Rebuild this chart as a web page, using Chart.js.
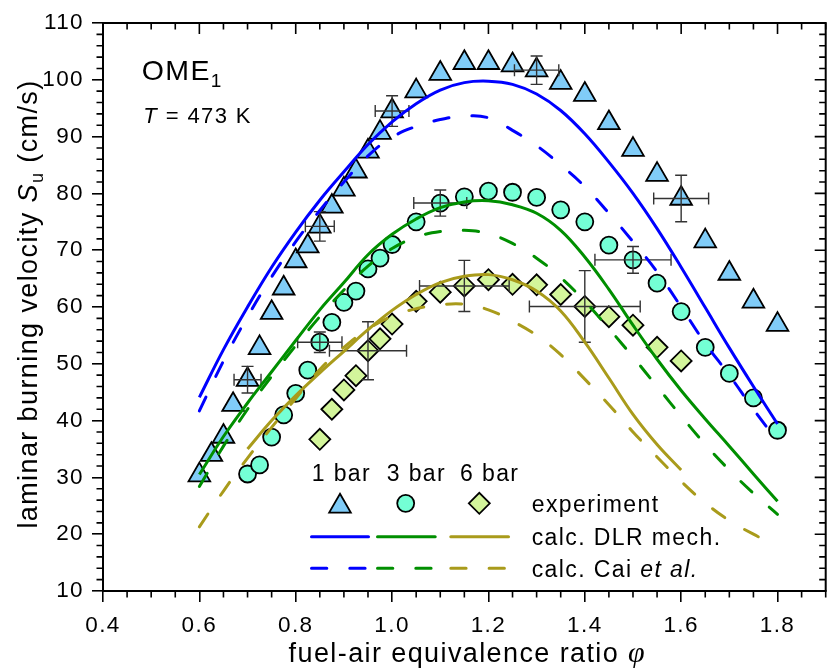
<!DOCTYPE html>
<html><head><meta charset="utf-8">
<script src="https://cdn.jsdelivr.net/npm/chart.js@4/dist/chart.umd.min.js"></script>
<style>
html,body{margin:0;padding:0;overflow:hidden;background:#fff;}
#wrap{width:827px;height:670px;overflow:hidden;position:relative;background:#fff;}
canvas{display:block;}
</style></head><body>
<div id="wrap"><canvas id="c" width="840" height="670"></canvas></div>
<script>
// ---------------- data ----------------
const xTickValues = [0.4, 0.6, 0.8, 1.0, 1.2, 1.4, 1.6, 1.8];
const yTickValues = [10, 20, 30, 40, 50, 60, 70, 80, 90, 100, 110];

// calculation grid (fuel-air equivalence ratio)
const phiGrid = [0.6,0.65,0.7,0.75,0.8,0.85,0.9,0.95,1.0,1.05,1.1,1.15,1.2,1.25,1.3,1.35,1.4,1.45,1.5,1.55,1.6,1.65,1.7,1.75,1.8];
const phiGrid6 = [0.7,0.75,0.8,0.85,0.9,0.95,1.0,1.05,1.1,1.15,1.2,1.25,1.3,1.35,1.4,1.45,1.5,1.55,1.6];

// calc. DLR mech.
const dlr1 = [44.1,52.5,60.0,67.0,73.2,78.8,83.8,88.6,92.6,95.8,98.2,99.5,99.75,99.2,97.5,94.6,90.5,85.5,80.0,73.8,67.0,59.9,52.8,46.0,39.4];
const dlr3 = [30.5,37.2,43.1,48.6,54.1,59.5,64.3,69.2,72.8,75.5,77.5,78.5,78.7,78.0,76.5,73.5,68.8,63.1,56.8,50.8,45.3,40.3,35.5,30.6,25.8];
const dlr6 = [35.0,40.0,44.4,48.4,52.2,56.0,59.4,62.2,64.3,65.4,65.7,64.8,62.8,59.3,53.8,47.5,41.1,35.8,31.3];
// calc. Cai et al.
const cai1 = [41.7,50.5,58.3,65.3,71.5,77.0,82.0,86.6,89.9,91.8,93.0,93.6,93.3,91.1,88.4,85.0,81.2,76.5,71.5,66.2,60.0,53.6,48.0,42.0,36.4];
const cai3 = [28.4,35.5,42.0,47.8,53.2,58.3,63.0,67.2,70.3,72.3,73.3,73.5,72.9,71.2,68.6,65.2,61.0,56.2,51.2,46.0,40.8,35.8,31.3,27.2,23.5];
const cai6 = [21.3,27.6,33.4,38.8,43.9,49.0,52.9,56.1,58.4,59.7,60.4,60.5,59.5,57.5,55.0,51.6,47.3,42.8,38.0,33.6,29.3,25.5,22.4,20.0,17.9];

// experiment, 1 bar
const exp1Phi = [0.6,0.625,0.65,0.67,0.7,0.725,0.75,0.775,0.8,0.825,0.85,0.875,0.9,0.925,0.95,0.975,1.0,1.05,1.1,1.15,1.2,1.25,1.3,1.35,1.4,1.45,1.5,1.55,1.6,1.65,1.7,1.75,1.8];
const exp1Su  = [30.4,34.0,37.2,42.8,47.2,52.8,59.0,63.3,68.1,70.7,74.2,77.7,80.7,83.9,87.4,90.7,94.5,98.0,101.1,103.0,103.0,102.6,101.7,99.5,97.4,92.4,87.7,83.3,79.1,71.6,65.9,61.0,56.9];
// experiment, 3 bar
const exp3Phi = [0.7,0.725,0.75,0.775,0.8,0.825,0.85,0.875,0.9,0.925,0.95,0.975,1.0,1.05,1.1,1.15,1.2,1.25,1.3,1.35,1.4,1.45,1.5,1.55,1.6,1.65,1.7,1.75,1.8];
const exp3Su  = [30.6,32.2,37.1,41.0,44.8,48.9,53.8,57.3,60.8,62.8,66.7,68.6,71.0,75.0,78.3,79.4,80.4,80.2,79.3,77.1,75.0,70.9,68.3,64.2,59.2,52.9,48.3,44.0,38.3];
// experiment, 6 bar
const exp6Phi = [0.85,0.875,0.9,0.925,0.95,0.975,1.0,1.05,1.1,1.15,1.2,1.25,1.3,1.35,1.4,1.45,1.5,1.55,1.6];
const exp6Su  = [36.7,42.0,45.4,47.9,52.3,54.4,57.0,61.0,62.6,63.7,64.8,64.0,63.9,62.2,60.1,58.3,56.8,52.9,50.5];

// error bars: [phi, +/- phi, +/- Su]
const exp1Err = [[0.7,0.028,2.35],[0.85,0.03,2.6],[1.0,0.035,2.7],[1.3,0.046,2.5],[1.6,0.057,4.1]];
const exp3Err = [[0.85,0.046,1.8],[1.1,0.055,2.3],[1.5,0.079,2.35]];
const exp6Err = [[0.95,0.08,5.1],[1.15,0.093,4.5],[1.4,0.115,6.3]];

// ---------------- style ----------------
const FONT = '"Liberation Sans", Arial, Helvetica, sans-serif';
const SERIF = '"Liberation Serif", "Times New Roman", serif';
const BLUE = '#0000ff', GREEN = '#008f00', OLIVE = '#a99b1b';
const TRI_FILL = '#80ccf8', CIR_FILL = '#74ffd5', DIA_FILL = '#d3f59b';
const DASH = [15.3, 23];
const LS = '1.4px';

function pts(xs, ys){ return xs.map((x,i)=>({x:x, y:ys[i]})); }

function marker(label, xs, ys, style, r, fill, err){
  return { label, data: pts(xs, ys), showLine:false, pointStyle:style, pointRadius:r, pointHoverRadius:r,
    pointBackgroundColor:fill, pointBorderColor:'#000', pointBorderWidth:1.8, order:2, errList: err };
}
function curve(label, xs, ys, color, dashed){
  return { label, data: pts(xs, ys), showLine:true, pointRadius:0, borderColor:color, borderWidth:3,
    tension:0.4, fill:false, borderDash: dashed ? DASH : [], borderCapStyle: dashed ? 'round' : 'butt', order:1 };
}

// ---------------- plugins ----------------
const spacing = {
  id:'spacing',
  beforeLayout(chart){ try{ chart.ctx.letterSpacing = LS; }catch(e){} },
  beforeDraw(chart){ try{ chart.ctx.letterSpacing = LS; }catch(e){} }
};

const errorBars = {
  id:'errorBars',
  afterDatasetDraw(chart, args){
    const ds = chart.data.datasets[args.index];
    if(!ds.errList) return;
    const xs = chart.scales.x, ys = chart.scales.y, ctx = chart.ctx;
    ctx.save();
    ctx.strokeStyle = '#333'; ctx.lineWidth = 1.4;
    const cap = 6;
    ds.errList.forEach(e => {
      const p = ds.data.find(d => Math.abs(d.x - e[0]) < 1e-6);
      if(!p) return;
      const cx = xs.getPixelForValue(p.x), cy = ys.getPixelForValue(p.y);
      const l = xs.getPixelForValue(p.x - e[1]), r = xs.getPixelForValue(p.x + e[1]);
      const t = ys.getPixelForValue(p.y + e[2]), b = ys.getPixelForValue(p.y - e[2]);
      ctx.beginPath();
      ctx.moveTo(l, cy); ctx.lineTo(r, cy);
      ctx.moveTo(l, cy - cap); ctx.lineTo(l, cy + cap);
      ctx.moveTo(r, cy - cap); ctx.lineTo(r, cy + cap);
      ctx.moveTo(cx, t); ctx.lineTo(cx, b);
      ctx.moveTo(cx - cap, t); ctx.lineTo(cx + cap, t);
      ctx.moveTo(cx - cap, b); ctx.lineTo(cx + cap, b);
      ctx.stroke();
    });
    ctx.restore();
  }
};

const frame = {
  id:'frame',
  afterDraw(chart){
    const {ctx, chartArea:a} = chart;
    const xs = chart.scales.x, ys = chart.scales.y;
    ctx.save();
    ctx.strokeStyle = '#000';
    ctx.lineWidth = 2;
    ctx.beginPath();
    ctx.moveTo(a.left - 1, a.top); ctx.lineTo(a.right + 1, a.top);
    ctx.moveTo(a.right, a.top); ctx.lineTo(a.right, a.bottom);
    ctx.stroke();
    ctx.lineWidth = 1.6;
    ctx.beginPath();
    for(let k = 8; k <= 38; k++){
      const px = xs.getPixelForValue(k * 0.05);
      if(k % 4 === 0){
        ctx.moveTo(px, a.top); ctx.lineTo(px, a.top + 11);
      } else {
        ctx.moveTo(px, a.top); ctx.lineTo(px, a.top + 6.5);
        ctx.moveTo(px, a.bottom); ctx.lineTo(px, a.bottom + 6.5);
      }
    }
    for(let v = 10; v <= 110; v += 2){
      const py = ys.getPixelForValue(v);
      if(v % 10 === 0){
        ctx.moveTo(a.right, py); ctx.lineTo(a.right - 11, py);
      } else {
        ctx.moveTo(a.right, py); ctx.lineTo(a.right - 6.5, py);
        ctx.moveTo(a.left, py); ctx.lineTo(a.left - 6.5, py);
      }
    }
    ctx.stroke();
    ctx.restore();
  }
};

function drawParts(ctx, parts, x, y, align){
  let w = 0;
  parts.forEach(p => { ctx.font = p.f; w += ctx.measureText(p.t).width; });
  let cx = align === 'center' ? x - w/2 : x;
  parts.forEach(p => {
    ctx.font = p.f;
    ctx.fillText(p.t, cx, y + (p.dy || 0));
    cx += ctx.measureText(p.t).width;
  });
}

const texts = {
  id:'texts',
  afterDraw(chart){
    const {ctx, chartArea:a} = chart;
    ctx.save();
    ctx.fillStyle = '#000';
    ctx.textBaseline = 'alphabetic';
    ctx.textAlign = 'left';
    // x title
    drawParts(ctx, [
      {t:'fuel-air equivalence ratio ', f:'27px ' + FONT},
      {t:'\u03c6', f:'italic 30px ' + SERIF}
    ], (a.left + a.right)/2 + 3, 662, 'center');
    // y title
    ctx.save();
    ctx.translate(37, 304);
    ctx.rotate(-Math.PI/2);
    drawParts(ctx, [
      {t:'laminar burning velocity ', f:'27px ' + FONT},
      {t:'S', f:'italic 27px ' + FONT},
      {t:'u', f:'18px ' + FONT, dy:6},
      {t:' (cm/s)', f:'27px ' + FONT}
    ], 0, 0, 'center');
    ctx.restore();
    // annotation
    drawParts(ctx, [{t:'OME', f:'28.5px ' + FONT}, {t:'1', f:'19px ' + FONT, dy:7}], 141.7, 80, 'left');
    drawParts(ctx, [{t:'T', f:'italic 22px ' + FONT}, {t:' = 473 K', f:'22px ' + FONT}], 143.3, 123.3, 'left');
    // legend
    const LF = '23px ' + FONT;
    ctx.font = LF;
    ctx.fillText('1 bar', 311.7, 480.7);
    ctx.fillText('3 bar', 386.7, 480.7);
    ctx.fillText('6 bar', 460, 480.7);
    ctx.fillText('experiment', 531.7, 512);
    ctx.fillText('calc. DLR mech.', 531.7, 545);
    drawParts(ctx, [{t:'calc. Cai ', f:LF}, {t:'et al.', f:'italic 23px ' + FONT}], 531.7, 576.7, 'left');
    // legend markers
    ctx.strokeStyle = '#000'; ctx.lineWidth = 1.8;
    const mk = [
      {s:'triangle', r:12.5, fill:TRI_FILL, x:340, y:506.3},
      {s:'circle', r:8.5, fill:CIR_FILL, x:405.7, y:503.3},
      {s:'rectRot', r:10.5, fill:DIA_FILL, x:479.3, y:503.3}
    ];
    mk.forEach(m => {
      ctx.fillStyle = m.fill;
      Chart.helpers.drawPoint(ctx, {pointStyle:m.s, radius:m.r, borderWidth:1.8, rotation:0}, m.x, m.y);
    });
    // legend lines
    ctx.lineWidth = 3;
    const segs = [[BLUE,310,370],[GREEN,376,436.7],[OLIVE,449.3,510]];
    segs.forEach(s => {
      ctx.strokeStyle = s[0];
      ctx.lineCap = 'round';
      ctx.setLineDash([]);
      ctx.beginPath(); ctx.moveTo(s[1] + 1.5, 536.7); ctx.lineTo(s[2] - 1.5, 536.7); ctx.stroke();
      ctx.setLineDash(DASH);
      ctx.beginPath(); ctx.moveTo(s[1] + 1.5, 568.3); ctx.lineTo(s[2], 568.3); ctx.stroke();
    });
    ctx.restore();
  }
};

// ---------------- chart ----------------
new Chart(document.getElementById('c'), {
  type:'scatter',
  data:{ datasets:[
    curve('calc. DLR mech. 1 bar', phiGrid, dlr1, BLUE, false),
    curve('calc. Cai et al. 1 bar', phiGrid, cai1, BLUE, true),
    curve('calc. DLR mech. 3 bar', phiGrid, dlr3, GREEN, false),
    curve('calc. Cai et al. 3 bar', phiGrid, cai3, GREEN, true),
    curve('calc. DLR mech. 6 bar', phiGrid6, dlr6, OLIVE, false),
    curve('calc. Cai et al. 6 bar', phiGrid, cai6, OLIVE, true),
    marker('experiment 6 bar', exp6Phi, exp6Su, 'rectRot', 10.5, DIA_FILL, exp6Err),
    marker('experiment 3 bar', exp3Phi, exp3Su, 'circle', 8.5, CIR_FILL, exp3Err),
    marker('experiment 1 bar', exp1Phi, exp1Su, 'triangle', 12.5, TRI_FILL, exp1Err)
  ]},
  options:{
    responsive:false, animation:false, devicePixelRatio:1, events:[],
    layout:{ padding:{ top:23, right:7, bottom:1, left:0 } },
    plugins:{ legend:{display:false}, title:{display:false}, tooltip:{enabled:false} },
    scales:{
      x:{ type:'linear', min:0.4, max:1.9,
        afterBuildTicks: s => { s.ticks = xTickValues.map(v => ({value:v})); },
        afterFit: s => { s.height = 78; },
        grid:{ display:true, drawOnChartArea:false, drawTicks:true, tickLength:11, color:'#000', lineWidth:1.6 },
        border:{ display:true, color:'#000', width:2 },
        ticks:{ color:'#000', font:{family:FONT, size:22.5}, padding:10, maxRotation:0, autoSkip:false,
          callback: v => Number(v).toFixed(1) },
        title:{ display:false }
      },
      y:{ type:'linear', min:10, max:110,
        afterBuildTicks: s => { s.ticks = yTickValues.map(v => ({value:v})); },
        afterFit: s => { s.width = 103; },
        grid:{ display:true, drawOnChartArea:false, drawTicks:true, tickLength:11, color:'#000', lineWidth:1.6 },
        border:{ display:true, color:'#000', width:2 },
        ticks:{ color:'#000', font:{family:FONT, size:22.5}, padding:8, autoSkip:false,
          callback: v => String(v) },
        title:{ display:false }
      }
    }
  },
  plugins:[spacing, errorBars, frame, texts]
});
</script>
</body></html>
